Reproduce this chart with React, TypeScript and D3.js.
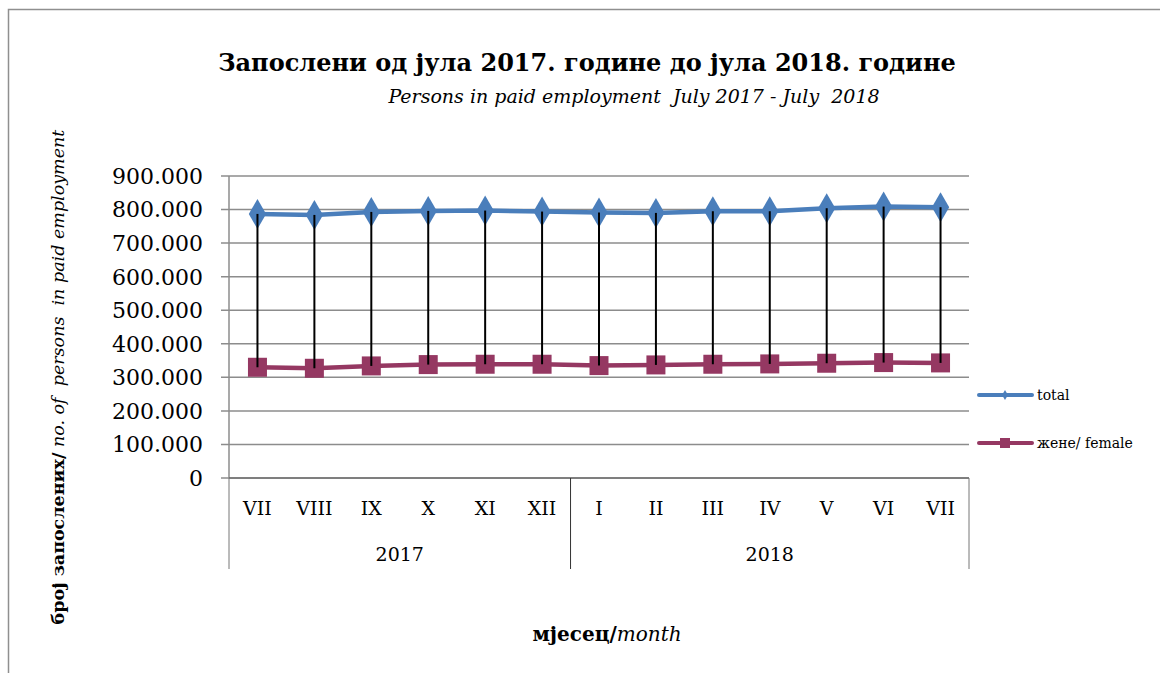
import React from "react";
import * as d3 from "d3";

const months = ["VII", "VIII", "IX", "X", "XI", "XII", "I", "II", "III", "IV", "V", "VI", "VII"];
const years = [
  { label: "2017", start: 0, end: 6 },
  { label: "2018", start: 6, end: 13 },
];
const totalValues = [787000, 784000, 793000, 796000, 797000, 794000, 791000, 790000, 795000, 795000, 804000, 809000, 807000];
const femaleValues = [330000, 327000, 334000, 338000, 339000, 339000, 335000, 337000, 339000, 340000, 342000, 344000, 343000];
const yTicks = [0, 100000, 200000, 300000, 400000, 500000, 600000, 700000, 800000, 900000];

const W = 1160;
const H = 673;
const plot = { left: 229, right: 969, top: 176, bottom: 478 };
const TOTAL_COLOR = "#4a7ebb";
const FEMALE_COLOR = "#953862";
const GRID = "#8c8c8c";
const FONT = "'DejaVu Serif', serif";

function fmt(v: number) {
  if (v === 0) return "0";
  return d3.format(",")(v).replace(/,/g, ".");
}

export default function App() {
  const x = d3.scaleBand<number>().domain(d3.range(months.length)).range([plot.left, plot.right]).paddingInner(0).paddingOuter(0);
  const y = d3.scaleLinear().domain([0, 900000]).range([plot.bottom, plot.top]);
  const cx = (i: number) => (x(i) as number) + x.bandwidth() / 2;
  const line = d3.line<number>().x((_, i) => cx(i)).y((d) => y(d));
  const diamond = d3.symbol().type(d3.symbolDiamond).size(260);
  const legendDiamond = d3.symbol().type(d3.symbolDiamond).size(30);

  return (
    <svg width={W} height={H} style={{ position: "absolute", left: 0, top: 0, background: "#fff" }}>
      <rect x={8.5} y={9.5} width={W + 10} height={H + 10} fill="none" stroke="#8f8f8f" strokeWidth={1.5} />
      <text x={587} y={71} textAnchor="middle" fontFamily={FONT} fontWeight="bold" fontSize={24}>
        Запослени од јула 2017. године до јула 2018. године
      </text>
      <text x={634} y={103} textAnchor="middle" fontFamily={FONT} fontStyle="italic" fontSize={19} style={{ whiteSpace: "pre" }}>
        {"Persons in paid employment  July 2017 - July  2018"}
      </text>

      {yTicks.map((t) => (
        <g key={t}>
          <line x1={plot.left - 8} x2={plot.right} y1={y(t)} y2={y(t)} stroke={GRID} strokeWidth={1.5} />
          <text x={203} y={y(t)} dy="0.36em" textAnchor="end" fontFamily={FONT} fontSize={22}>
            {fmt(t)}
          </text>
        </g>
      ))}
      <line x1={plot.left} x2={plot.left} y1={plot.top} y2={plot.bottom} stroke={GRID} strokeWidth={1.5} />
      <line x1={plot.left} x2={plot.right} y1={plot.bottom} y2={plot.bottom} stroke="#555" strokeWidth={1} />
      {[0, 6, 13].map((i) => {
        const xx = i === 13 ? plot.right : (x(i) as number);
        return <line key={i} x1={xx} x2={xx} y1={plot.bottom} y2={569} stroke={i === 6 ? "#333" : "#777"} strokeWidth={1} />;
      })}
      {months.map((m, i) => (
        <text key={i} x={cx(i)} y={515} textAnchor="middle" fontFamily={FONT} fontSize={19}>
          {m}
        </text>
      ))}
      {years.map((yr) => {
        const a = x(yr.start) as number;
        const b = yr.end >= months.length ? plot.right : (x(yr.end) as number);
        return (
          <text key={yr.label} x={(a + b) / 2} y={561} textAnchor="middle" fontFamily={FONT} fontSize={19}>
            {yr.label}
          </text>
        );
      })}

      <path d={line(totalValues) || ""} fill="none" stroke={TOTAL_COLOR} strokeWidth={4.5} />
      {totalValues.map((v, i) => (
        <path key={i} d={diamond() || ""} transform={`translate(${cx(i)},${y(v)})`} fill={TOTAL_COLOR} />
      ))}
      <path d={line(femaleValues) || ""} fill="none" stroke={FEMALE_COLOR} strokeWidth={4.5} />
      {femaleValues.map((v, i) => (
        <rect key={i} x={cx(i) - 9.5} y={y(v) - 9.5} width={19} height={19} fill={FEMALE_COLOR} />
      ))}
      {totalValues.map((v, i) => (
        <line key={i} x1={cx(i)} x2={cx(i)} y1={y(v)} y2={y(femaleValues[i])} stroke="#000" strokeWidth={2} />
      ))}

      <g>
        <line x1={979} x2={1032} y1={395} y2={395} stroke={TOTAL_COLOR} strokeWidth={4} strokeLinecap="round" />
        <path d={legendDiamond() || ""} transform="translate(1005,395)" fill={TOTAL_COLOR} />
        <text x={1037} y={395} dy="0.35em" fontFamily={FONT} fontSize={14}>total</text>
        <line x1={979} x2={1032} y1={443} y2={443} stroke={FEMALE_COLOR} strokeWidth={4} strokeLinecap="round" />
        <rect x={1000} y={438} width={10} height={10} fill={FEMALE_COLOR} />
        <text x={1037} y={443} dy="0.35em" fontFamily={FONT} fontSize={14}>жене/ female</text>
      </g>

      <text transform="translate(64,377) rotate(-90)" textAnchor="middle" fontFamily={FONT} fontSize={17.5} style={{ whiteSpace: "pre" }}>
        <tspan fontWeight="bold">број запослених/</tspan>
        <tspan fontStyle="italic">{" no. of  persons  in paid employment"}</tspan>
      </text>
      <text x={607} y={641} textAnchor="middle" fontFamily={FONT} fontSize={20}>
        <tspan fontWeight="bold">мјесец/</tspan>
        <tspan fontStyle="italic">month</tspan>
      </text>
    </svg>
  );
}
